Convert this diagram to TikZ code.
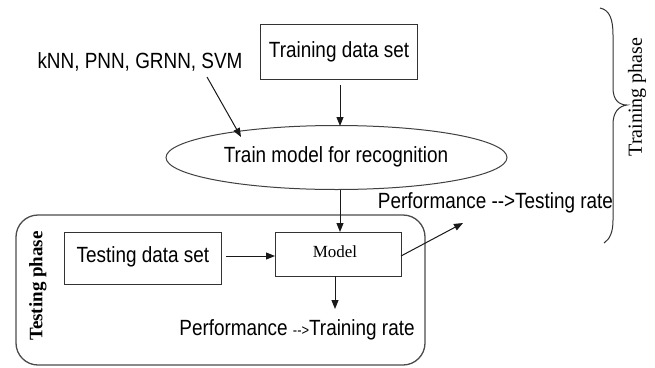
\documentclass[tikz,border=0pt]{standalone}
\usepackage{fontspec}
\usetikzlibrary{shapes.geometric,arrows.meta}
\newfontfamily\arn{Liberation Sans}[FakeStretch=0.86]
\newfontfamily\tms{Liberation Serif}
\begin{document}
\begin{tikzpicture}[x=1pt,y=-1pt,
  lbl/.style={font=\arn\fontsize{22}{24}\selectfont, inner sep=0pt, text=black},
  boxn/.style={draw=black!80, line width=1pt, rectangle, inner sep=0pt},
  arr/.style={draw=black!90, line width=1pt, -{Triangle[length=9pt,width=7pt]}}]
\useasboundingbox (0,0) rectangle (655,367);
\fill[white] (0,0) rectangle (655,367);
% testing frame
\draw[draw=black!70, line width=1.3pt, rounded corners=22pt] (16,215) rectangle (425,365);
% nodes
\node[boxn, minimum width=157pt, minimum height=55pt] (train) at (339,51.5) {};
\node[lbl] (traint) at (339,51.5) {Training data set};
\node[ellipse, draw=black!75, line width=1pt, minimum width=341pt, minimum height=64pt, inner sep=0pt] (ell) at (336.5,157.5) {};
\node[lbl] (ellt) at (336,157) {Train model for recognition};
\node[lbl] (knn) at (140,62) {kNN, PNN, GRNN, SVM};
\node[boxn, minimum width=157pt, minimum height=52pt] (test) at (142.5,258) {};
\node[lbl] (testt) at (143,257) {Testing data set};
\node[boxn, minimum width=126pt, minimum height=44pt] (model) at (338,254) {};
\node[font=\tms\fontsize{17}{19}\selectfont, inner sep=0pt] (modelt) at (335,252) {Model};
\node[lbl] (ptest) at (495.5,203) {Performance -\kern0pt-\kern0pt>Testing rate};
\node[lbl] (ptrain) at (297,330) {Performance {\fontsize{15}{17}\selectfont-\kern0pt-\kern0pt>}Training rate};
\node[font=\tms\bfseries\fontsize{19}{21}\selectfont, rotate=90, inner sep=0pt] (tph) at (38,286) {Testing phase};
\node[font=\tms\fontsize{20}{22}\selectfont, rotate=90, inner sep=0pt] (trph) at (637,97) {Training phase};
% coordinates
\coordinate (a1s) at (340,85);
\coordinate (a1e) at (340,126);
\coordinate (a2s) at (340,190);
\coordinate (a2e) at (340,232);
\coordinate (k1) at (207,77);
\coordinate (k2) at (241,137);
\coordinate (t1) at (226,256);
\coordinate (t2) at (275,256);
\coordinate (m1) at (401,256);
\coordinate (m2) at (463,223);
\coordinate (d1) at (335,276);
\coordinate (d2) at (335,309);
% arrows
\draw[arr] (a1s) -- (a1e);
\draw[arr] (a2s) -- (a2e);
\draw[arr] (k1) -- (k2);
\draw[arr] (t1) -- (t2);
\draw[arr] (m1) -- (m2);
\draw[arr] (d1) -- (d2);
% brace
\draw[draw=black!80, line width=1pt] (600,8) .. controls (610,10) and (613,20) .. (613,35) -- (613,88) .. controls (613,100) and (619,105) .. (627,105) .. controls (619,106) and (613,112) .. (613,124) -- (613,220) .. controls (613,232) and (610,239) .. (604,243);
\end{tikzpicture}
\end{document}
